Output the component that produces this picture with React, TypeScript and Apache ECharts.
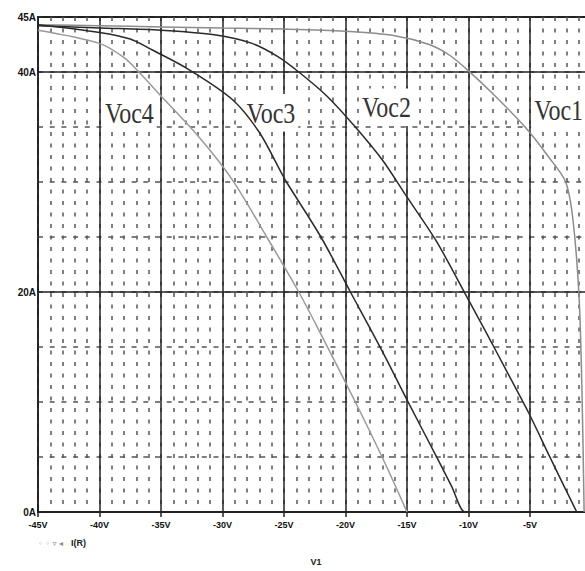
import React, { useEffect, useRef } from "react";
import * as echarts from "echarts";

// Sweep voltage (V) and current (A) for each curve
const voc1V = [-45, -40, -35, -30, -25, -20, -16, -13.2, -11.5, -10, -8, -5.4, -3.5, -2.1, -1.5, -1.0, -0.76, -0.6];
const voc1I = [44.3, 44.2, 44.1, 44.0, 43.9, 43.7, 43.3, 42.5, 41.5, 40.1, 38, 35, 32.3, 30, 26.5, 19.3, 10.2, 0];

const voc2V = [-45, -40, -35, -30.8, -27.6, -25.5, -23.8, -21.5, -19.2, -17, -15.1, -12.6, -10.3, -8.6, -6.8, -5.1, -3.3, -1.2];
const voc2I = [44.2, 44.0, 43.8, 43.4, 42.6, 41.4, 40, 37.8, 35, 32, 28.8, 24.6, 19.9, 16.4, 12.6, 9.0, 4.8, 0];

const voc3V = [-45, -40, -37.5, -35.7, -32.7, -29.2, -27, -25.2, -24.8, -22, -19.6, -17.1, -15, -12.5, -11.4, -10.3, -10.0, -5.8];
const voc3I = [44.3, 43.6, 43, 42, 40.2, 37.5, 34.5, 30.8, 30, 25, 20, 14.8, 10.2, 4.8, 2.4, 0, 0, 0];

const voc4V = [-45, -40, -38, -36.8, -34.9, -32, -29.2, -26.4, -23.8, -22.2, -19.2, -16.9, -15];
const voc4I = [43.8, 42.6, 41.3, 40, 37.7, 34.2, 30.2, 25, 20, 16.6, 10.0, 4.7, 0];

const curveNames = ["Voc1", "Voc2", "Voc3", "Voc4"];
const curveColors = ["#8c8c8c", "#2a2a2a", "#2a2a2a", "#9a9a9a"];
const labelV = [-4.9, -18.9, -28.3, -39.8];
const labelI = [36.5, 36.8, 36.3, 36.3];

const yLabelValues = [0, 20, 40, 45];
const xAxisTitle = "V1";
const legendMarks = "◦ ◦ ▿ ◂";
const legendText = "I(R)";

export default function App() {
  const ref = useRef<HTMLDivElement>(null);
  useEffect(() => {
    const chart = echarts.init(ref.current!, null, { renderer: "svg" });
    const zip = (v: number[], i: number[]) => v.map((x, k) => [x, i[k]]);
    const seriesData = [zip(voc1V, voc1I), zip(voc2V, voc2I), zip(voc3V, voc3I), zip(voc4V, voc4I)];
    const option: any = {
      animation: false,
      backgroundColor: "#fff",
      grid: { left: 38, right: 7, top: 17, bottom: 59, show: true, borderColor: "#222", borderWidth: 2 },
      xAxis: [
        {
          type: "value", min: -45, max: 0, interval: 1,
          axisLine: { show: false }, axisTick: { show: false }, axisLabel: { show: false },
          splitLine: { show: true, lineStyle: { color: "#555", width: 1.5, type: [4, 7.5] } },
        },
        {
          type: "value", min: -45, max: 0, interval: 5, position: "bottom",
          axisLine: { show: true, onZero: false, lineStyle: { color: "#222", width: 2 } },
          axisTick: { show: true, length: 5, lineStyle: { color: "#222", width: 1.5 } },
          axisLabel: {
            formatter: (v: number) => `${v}V`, fontSize: 9, fontWeight: "bold",
            color: "#111", margin: 8, fontFamily: "Liberation Sans",
            showMinLabel: true, showMaxLabel: true,
          },
          splitLine: { show: true, lineStyle: { color: "#222", width: 1.5 } },
        },
      ],
      yAxis: [
        {
          type: "value", min: 0, max: 45, interval: 5,
          axisLine: { show: true, lineStyle: { color: "#222", width: 2 } },
          axisTick: { show: false },
          axisLabel: {
            formatter: (v: number) => (yLabelValues.includes(v) ? `${v}A` : ""),
            fontSize: 10, fontWeight: "bold", color: "#111", margin: 2, fontFamily: "Liberation Sans",
          },
          splitLine: { show: true, lineStyle: { color: "#555", width: 1.5, type: [5, 6.7] } },
        },
        {
          type: "value", min: 0, max: 45, interval: 20, position: "left",
          axisLine: { show: false }, axisTick: { show: false }, axisLabel: { show: false },
          splitLine: { show: true, lineStyle: { color: "#222", width: 1.5 } },
        },
      ],
      series: seriesData.map((d, k) => ({
        type: "line",
        name: curveNames[k],
        data: d,
        xAxisIndex: 0,
        yAxisIndex: 0,
        showSymbol: false,
        smooth: 0.3,
        z: 5,
        lineStyle: { color: curveColors[k], width: 1.5 },
      })),
    };
    chart.setOption(option);
    const labels = curveNames.map((n, k) => {
      const p = chart.convertToPixel({ gridIndex: 0 }, [labelV[k], labelI[k]]) as number[];
      return {
        type: "text",
        x: p[0],
        y: p[1],
        z: 2,
        scaleY: 1.25,
        style: {
          text: n,
          fontFamily: "Liberation Serif",
          fontSize: 24,
          fill: "#333",
          verticalAlign: "middle",
          align: "left",
          backgroundColor: "#fff",
          padding: [3, 3],
        },
      };
    });
    const p0 = chart.convertToPixel({ gridIndex: 0 }, [-45, 0]) as number[];
    const pMid = chart.convertToPixel({ gridIndex: 0 }, [-22.4, 0]) as number[];
    chart.setOption({
      graphic: [
        ...labels,
        { type: "text", x: p0[0], y: p0[1] + 31, style: { text: legendMarks, fontFamily: "DejaVu Sans", fontSize: 8, fill: "#888", verticalAlign: "middle" } },
        { type: "text", x: p0[0] + 33, y: p0[1] + 31, style: { text: legendText, fontFamily: "Liberation Sans", fontWeight: "bold", fontSize: 9, fill: "#222", verticalAlign: "middle" } },
        { type: "text", x: pMid[0], y: p0[1] + 50, style: { text: xAxisTitle, fontFamily: "Liberation Sans", fontWeight: "bold", fontSize: 9, fill: "#222", verticalAlign: "middle", align: "center" } },
      ],
    });
    return () => chart.dispose();
  }, []);
  return (
    <div style={{ position: "fixed", left: 0, top: 0, width: 585, height: 571, overflow: "hidden", background: "#fff" }}>
      <div ref={ref} style={{ width: 600, height: 571 }} />
    </div>
  );
}
